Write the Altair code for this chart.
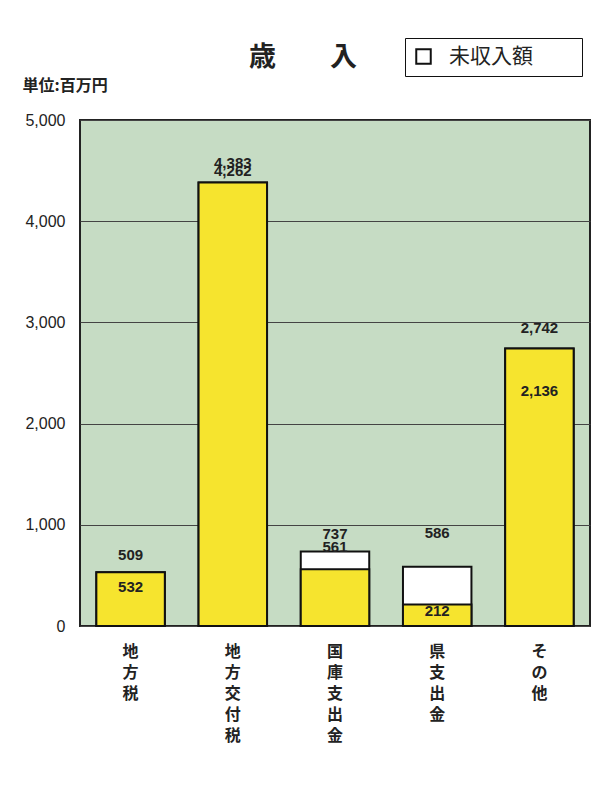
import altair as alt
import pandas as pd

categories = ["地方税", "地方交付税", "国庫支出金", "県支出金", "その他"]
received = [532, 4383, 561, 212, 2742]
total = [532, 4383, 737, 586, 2742]

label_cat = ["地方税", "地方税", "地方交付税", "地方交付税", "国庫支出金", "国庫支出金",
             "県支出金", "県支出金", "その他", "その他"]
label_text = ["509", "532", "4,383", "4,262", "737", "561", "586", "212", "2,742", "2,136"]
label_at = [701, 385, 4580, 4492, 908, 780, 918, 148, 2942, 2320]

bars = pd.DataFrame({"cat": categories, "received": received, "total": total,
                     "kind": ["未収入額"] * len(categories)})
labels = pd.DataFrame({"cat": label_cat, "text": label_text, "at": label_at})

x = alt.X("cat:N", sort=categories, title=None,
          scale=alt.Scale(paddingInner=0.33, paddingOuter=0.16),
          axis=alt.Axis(labelAngle=0, labelExpr="split(datum.label, '')",
                        labelLineHeight=21, labelFontSize=16, labelFontWeight="bold",
                        labelFont="Noto Sans CJK JP", labelColor="#222",
                        labelPadding=17, ticks=False, domain=False, labelBaseline="top"))

y_axis = alt.Axis(values=[0, 1000, 2000, 3000, 4000, 5000], format=",d",
                  labelFont="Liberation Sans", labelFontSize=16, labelColor="#222",
                  labelPadding=15, ticks=False, domain=False,
                  gridColor="#444", gridWidth=1, gridOpacity=1,
                  title="単位:百万円", titleAngle=0, titleFont="Noto Sans CJK JP",
                  titleFontSize=16, titleFontWeight="bold", titleColor="#222",
                  titleAlign="left", titleBaseline="middle", titleX=-58, titleY=-35)

white = alt.Chart(bars).mark_bar(stroke="#111", strokeWidth=2).encode(
    x=x,
    y=alt.Y("total:Q", scale=alt.Scale(domain=[0, 5000]), axis=y_axis),
    y2=alt.Y2(datum=0),
    color=alt.Color("kind:N", scale=alt.Scale(domain=["未収入額"], range=["#ffffff"]),
                    legend=alt.Legend(title=None, orient="none", legendX=325, legendY=-82,
                                      symbolType="square", symbolSize=210,
                                      symbolStrokeColor="#111", symbolStrokeWidth=2,
                                      symbolFillColor="#ffffff",
                                      labelFont="Noto Sans CJK JP", labelFontSize=21,
                                      labelColor="#222",
                                      labelExpr="datum.label + '\u3000 \u2800'",
                                      strokeColor="#111", padding=8, fillColor="#ffffff",
                                      labelOffset=15, labelLimit=400)),
)

yellow = alt.Chart(bars).mark_bar(stroke="#111", strokeWidth=2, color="#f6e42e").encode(
    x=x,
    y=alt.Y("received:Q"),
    y2=alt.Y2(datum=0),
)

text = alt.Chart(labels).mark_text(font="Liberation Sans", fontSize=15, fontWeight="bold",
                                   color="#222", baseline="middle").encode(
    x=alt.X("cat:N", sort=categories),
    y=alt.Y("at:Q"),
    text="text:N",
)

chart = alt.layer(white, yellow, text).properties(
    width=510, height=506,
    autosize=alt.AutoSizeParams(type="none"),
    padding={"left": 72, "top": 112, "right": 14, "bottom": 150},
    view=alt.ViewBackground(fill="#c6dcc4", stroke="#222", strokeWidth=2),
    title=alt.Title("歳　　入", font="Noto Sans CJK JP", fontSize=27, fontWeight="bold",
                    color="#222", anchor="middle", offset=0, dy=34, dx=-32),
).configure(background="#ffffff")

chart.save("out.html", embed_options={"renderer": "svg", "actions": False})
